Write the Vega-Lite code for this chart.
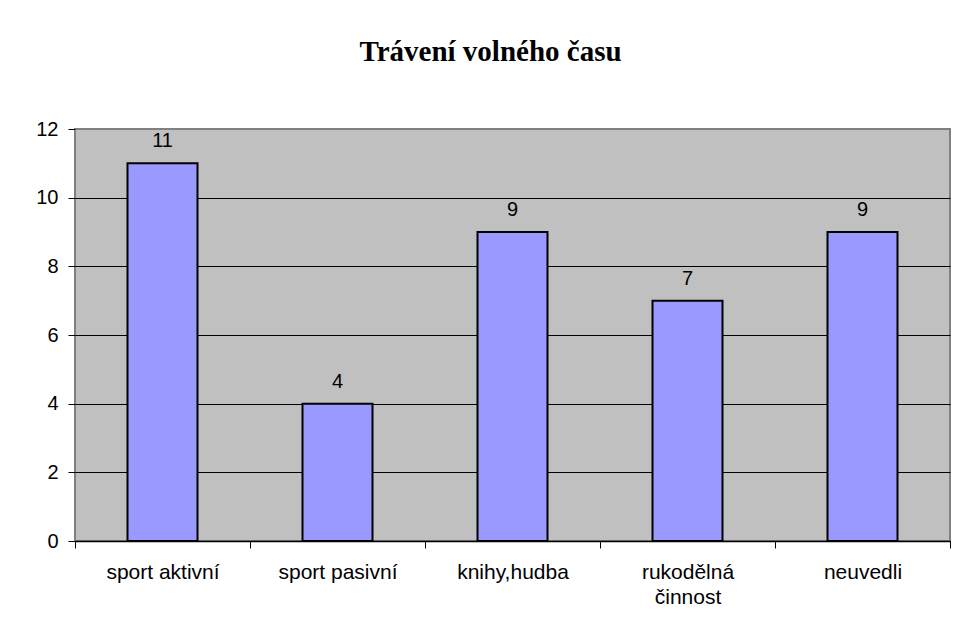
{
  "$schema": "https://vega.github.io/schema/vega-lite/v6.json",
  "autosize": {"type": "none"},
  "width": 875,
  "height": 412,
  "padding": {"left": 75, "top": 129, "right": 6, "bottom": 94},
  "background": "white",
  "title": {
    "text": "Trávení volného času",
    "font": "Liberation Serif",
    "fontSize": 29,
    "fontWeight": "bold",
    "color": "black",
    "anchor": "middle",
    "frame": "group",
    "baseline": "alphabetic",
    "offset": 29,
    "dx": -22
  },
  "data": {
    "values": [
      {"kategorie": "sport aktivní", "pocet": 11},
      {"kategorie": "sport pasivní", "pocet": 4},
      {"kategorie": "knihy,hudba", "pocet": 9},
      {"kategorie": "rukodělná činnost", "pocet": 7},
      {"kategorie": "neuvedli", "pocet": 9}
    ]
  },
  "encoding": {
    "x": {
      "field": "kategorie",
      "type": "nominal",
      "sort": null,
      "scale": {"paddingInner": 0, "paddingOuter": 0},
      "axis": {
        "title": null,
        "labelAngle": 0,
        "labelFont": "Liberation Sans",
        "labelFontSize": 21,
        "labelColor": "black",
        "labelPadding": 13,
        "labelLineHeight": 25,
        "labelExpr": "datum.label == 'rukodělná činnost' ? ['rukodělná', 'činnost'] : datum.label",
        "tickBand": "extent",
        "tickSize": 7,
        "tickColor": "black",
        "domainColor": "black",
        "domainWidth": 1.5,
        "grid": false
      }
    },
    "y": {
      "field": "pocet",
      "type": "quantitative",
      "scale": {"domain": [0, 12], "nice": false},
      "axis": {
        "title": null,
        "values": [0, 2, 4, 6, 8, 10, 12],
        "labelFont": "Liberation Sans",
        "labelFontSize": 20,
        "labelColor": "black",
        "labelPadding": 10,
        "tickSize": 7,
        "tickColor": "black",
        "domain": false,
        "grid": true,
        "gridColor": {"condition": {"test": "datum.value == 12", "value": "#808080"}, "value": "black"},
        "gridOpacity": 1,
        "gridWidth": 1
      }
    }
  },
  "layer": [
    {
      "mark": {"type": "bar", "fill": "#9999FF", "stroke": "black", "strokeWidth": 2, "width": {"band": 0.4}}
    },
    {
      "mark": {
        "type": "text",
        "font": "Liberation Sans",
        "fontSize": 20,
        "color": "black",
        "baseline": "alphabetic",
        "dy": -16
      },
      "encoding": {"text": {"field": "pocet", "type": "quantitative"}}
    }
  ],
  "config": {
    "view": {"fill": "#C0C0C0", "stroke": "#808080", "strokeWidth": 2}
  }
}
